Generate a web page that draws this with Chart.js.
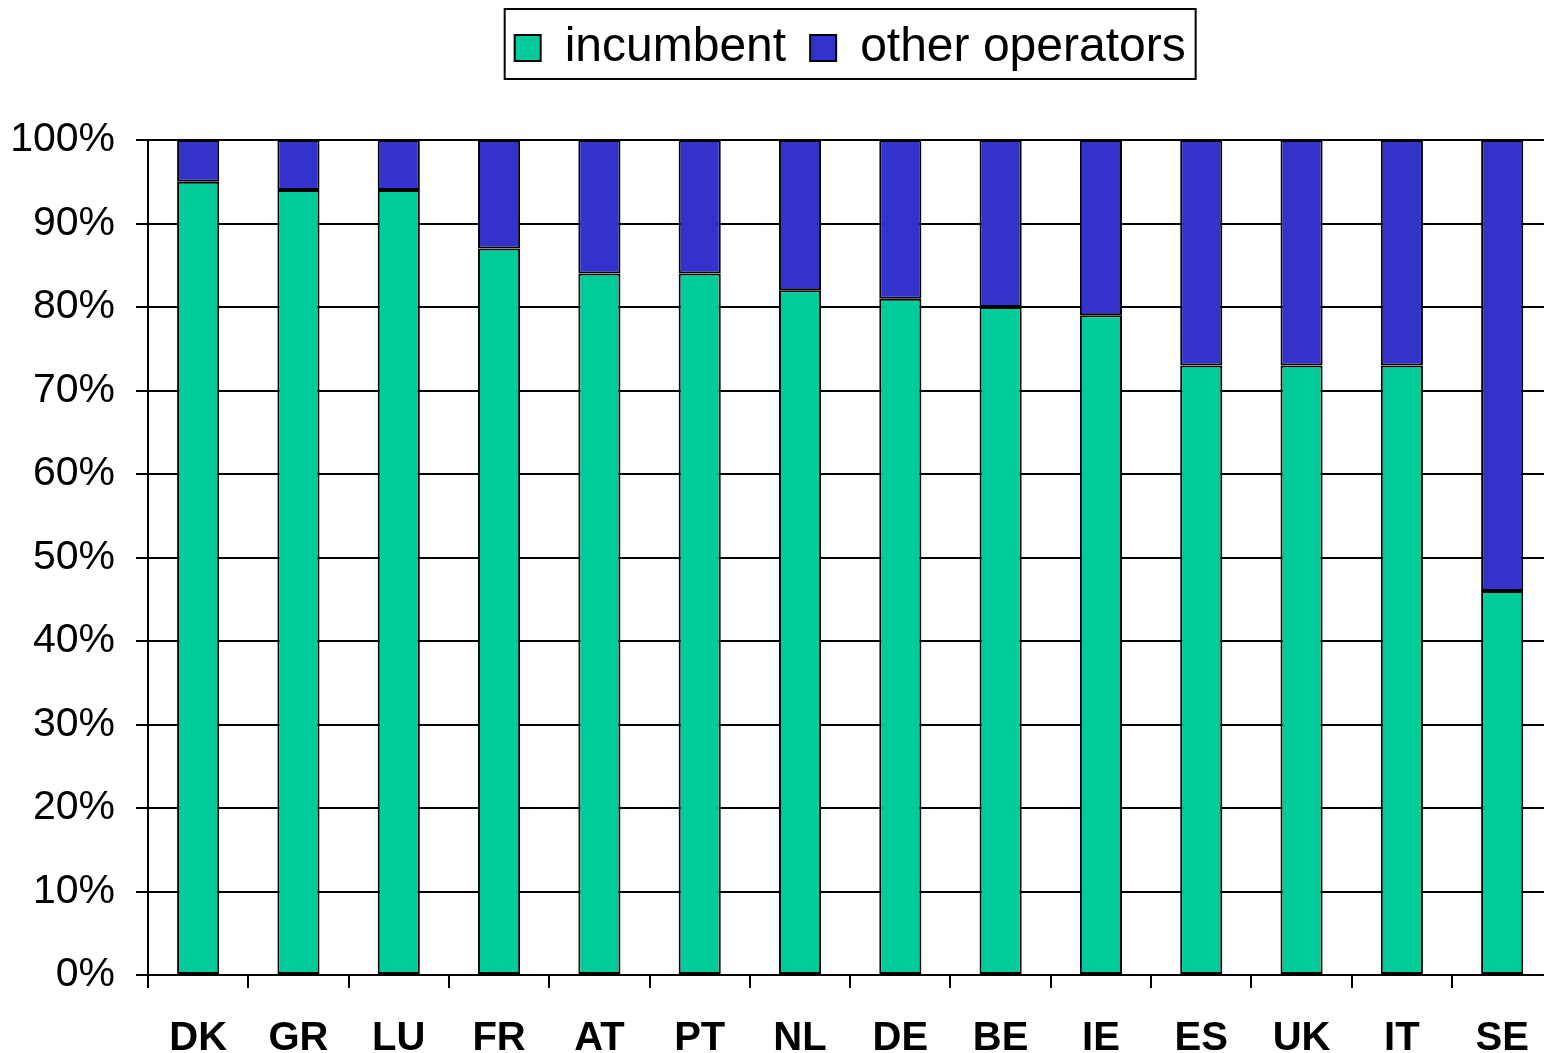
<!DOCTYPE html>
<html>
<head>
<meta charset="utf-8">
<script src="https://cdn.jsdelivr.net/npm/chart.js@4/dist/chart.umd.min.js"></script>
<style>
  html, body { margin: 0; padding: 0; background: #fff; overflow: hidden; }
  #wrap { width: 1556px; height: 1053px; }
</style>
</head>
<body>
<div id="wrap"><canvas id="c" width="1556" height="1053"></canvas></div>
<script>
const categories = ['DK','GR','LU','FR','AT','PT','NL','DE','BE','IE','ES','UK','IT','SE'];
const incumbent = [95, 94, 94, 87, 84, 84, 82, 81, 80, 79, 73, 73, 73, 46];
const otherOperators = [5, 6, 6, 13, 16, 16, 18, 19, 20, 21, 27, 27, 27, 54];
const yTicks = [0,10,20,30,40,50,60,70,80,90,100];
const seriesNames = ['incumbent', 'other operators'];

const FONT = '"Liberation Sans", Arial, sans-serif';

const legendSpacer = {
  id: 'legendSpacer',
  beforeLayout(chart) {
    const lg = chart.legend;
    if (lg && !lg._wrapped) {
      const orig = lg.fit;
      lg.fit = function () { orig.call(this); this.height = 140; };
      lg._wrapped = true;
    }
  }
};

const legendFrame = {
  id: 'legendFrame',
  afterDraw(chart) {
    const lg = chart.legend;
    if (!lg || !lg.legendHitBoxes || !lg.legendHitBoxes.length) return;
    const boxes = lg.legendHitBoxes;
    let l = Infinity, r = -Infinity;
    boxes.forEach(b => { l = Math.min(l, b.left); r = Math.max(r, b.left + b.width); });
    const ctx = chart.ctx;
    ctx.save();
    ctx.strokeStyle = '#000';
    ctx.lineWidth = 2;
    ctx.strokeRect(l - 10, 9, (r + 10) - (l - 10), 70);
    ctx.restore();
  }
};

new Chart(document.getElementById('c'), {
  type: 'bar',
  data: {
    labels: categories,
    datasets: [
      { label: seriesNames[0], data: incumbent, backgroundColor: '#00CC99', borderColor: '#000', borderWidth: 2, borderSkipped: false, barPercentage: 0.42, categoryPercentage: 1 },
      { label: seriesNames[1], data: otherOperators, backgroundColor: '#3333CC', borderColor: '#000', borderWidth: 2, borderSkipped: false, barPercentage: 0.42, categoryPercentage: 1 }
    ]
  },
  options: {
    responsive: false,
    animation: false,
    layout: { padding: 0 },
    plugins: {
      tooltip: { enabled: false },
      legend: {
        position: 'top',
        fullSize: false,
        labels: {
          color: '#000',
          font: { family: FONT, size: 48 },
          boxWidth: 26,
          boxHeight: 26,
          padding: 24
        }
      }
    },
    scales: {
      x: {
        stacked: true,
        offset: true,
        grid: { offset: true, drawOnChartArea: false, drawTicks: true, tickLength: 13, color: '#000', lineWidth: 2 },
        border: { display: true, color: '#000', width: 2 },
        ticks: { color: '#000', font: { family: FONT, size: 40, weight: 'bold' }, padding: 27, maxRotation: 0, autoSkip: false },
        afterFit(scale) { scale.height = 78; }
      },
      y: {
        stacked: true,
        min: 0,
        max: 100,
        afterBuildTicks(scale) { scale.ticks = yTicks.map(v => ({ value: v })); },
        grid: { color: '#000', lineWidth: 2, drawTicks: true, tickLength: 12 },
        border: { display: true, color: '#000', width: 2 },
        ticks: { color: '#000', font: { family: FONT, size: 41 }, padding: 21, callback: v => v + '%' },
        afterFit(scale) { scale.width = 148; }
      }
    }
  },
  plugins: [legendSpacer, legendFrame]
});
</script>
</body>
</html>
